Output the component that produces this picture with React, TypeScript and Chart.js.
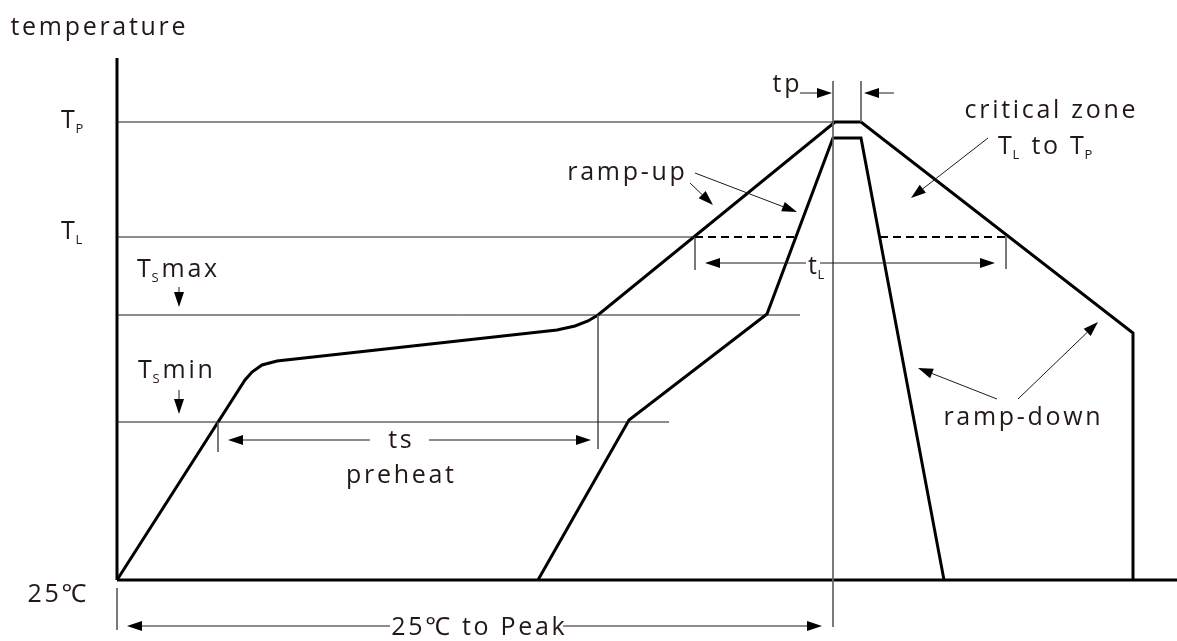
import React, { useEffect, useRef } from 'react';
import { Chart, registerables } from 'chart.js';
Chart.register(...registerables);

// Schematic reflow profile: x = time (relative units), y = temperature (relative units, 0 = 25℃)
const axisYLine = [{ x: 0, y: 0 }, { x: 0, y: 522 }];
const axisXLine = [{ x: 0, y: 0 }, { x: 1060, y: 0 }];

const outerProfile = [
  { x: 0, y: 0 }, { x: 128, y: 200 }, { x: 135, y: 208 }, { x: 145, y: 215 }, { x: 160, y: 219 },
  { x: 440, y: 250 }, { x: 458, y: 254 }, { x: 471, y: 259 }, { x: 481, y: 265 },
  { x: 718, y: 458 }, { x: 744, y: 458 }, { x: 1016, y: 247 }, { x: 1016, y: 0 },
];
const innerProfile = [
  { x: 421, y: 0 }, { x: 512, y: 160 }, { x: 650, y: 266 }, { x: 716, y: 442 },
  { x: 744, y: 442 }, { x: 827, y: 0 },
];

const levelTP = [{ x: 0, y: 458 }, { x: 716, y: 458 }];
const levelTL = [{ x: 0, y: 343 }, { x: 578, y: 343 }];
const levelTsMax = [{ x: 0, y: 265 }, { x: 683, y: 265 }];
const levelTsMin = [{ x: 0, y: 158 }, { x: 552, y: 158 }];
const dashTL1 = [{ x: 578, y: 343 }, { x: 679, y: 343 }];
const dashTL2 = [{ x: 763, y: 343 }, { x: 889, y: 343 }];

const markPeakLeft = [{ x: 716, y: 499 }, { x: 716, y: -47 }];
const markPeakRight = [{ x: 744, y: 499 }, { x: 744, y: 458 }];
const markOrigin = [{ x: 0, y: -8 }, { x: 0, y: -50 }];
const markTsMin = [{ x: 101, y: 158 }, { x: 101, y: 128 }];
const markTsMax = [{ x: 481, y: 265 }, { x: 481, y: 131 }];
const markTLStart = [{ x: 578, y: 343 }, { x: 578, y: 310 }];
const markTLEnd = [{ x: 889, y: 344 }, { x: 889, y: 311 }];

// arrows: [fromX, fromY, toX, toY] (tip at "to")
const arrows = [
  [253, 140, 111, 140], [312, 140, 474, 140],
  [273, -46, 10, -46], [446, -46, 705, -46],
  [689, 317, 588, 317], [703, 317, 878, 317],
  [683, 487, 715, 487], [777, 487, 747, 487],
  [573, 397, 596, 375], [578, 407, 680, 368],
  [871, 442, 794, 382],
  [880, 181, 801, 212], [901, 181, 981, 258],
  [62, 293, 62, 273], [62, 190, 62, 166],
];

type Part = { t: string; sub?: boolean };
const labels: { parts: Part[]; x: number; y: number; align: 'left' | 'center' }[] = [
  { parts: [{ t: 'temperature' }], x: -19, y: 545, align: 'center' },
  { parts: [{ t: 'T' }, { t: 'P', sub: true }], x: -56, y: 452, align: 'left' },
  { parts: [{ t: 'T' }, { t: 'L', sub: true }], x: -56, y: 341, align: 'left' },
  { parts: [{ t: 'T' }, { t: 'S', sub: true }, { t: 'max' }], x: 20, y: 303, align: 'left' },
  { parts: [{ t: 'T' }, { t: 'S', sub: true }, { t: 'min' }], x: 21, y: 202, align: 'left' },
  { parts: [{ t: '25℃' }], x: -60, y: -22, align: 'center' },
  { parts: [{ t: 'ts' }], x: 283, y: 132, align: 'center' },
  { parts: [{ t: 'preheat' }], x: 283, y: 97, align: 'center' },
  { parts: [{ t: '25℃ to Peak' }], x: 361, y: -55, align: 'center' },
  { parts: [{ t: 'ramp-up' }], x: 509, y: 400, align: 'center' },
  { parts: [{ t: 'tp' }], x: 669, y: 488, align: 'center' },
  { parts: [{ t: 'critical zone' }], x: 933, y: 462, align: 'center' },
  { parts: [{ t: 'T' }, { t: 'L', sub: true }, { t: ' to T' }, { t: 'P', sub: true }], x: 881, y: 426, align: 'left' },
  { parts: [{ t: 't' }, { t: 'L', sub: true }], x: 691, y: 306, align: 'left' },
  { parts: [{ t: 'ramp-down' }], x: 905, y: 155, align: 'center' },
];

const FONT = '"Open Sans", "Noto Sans", sans-serif';
const MAIN_SIZE = 25;
const SUB_SIZE = 13;
const SPACING = 2.7;
const TEXT_COLOR = '#231815';

function ds(data: any[], width: number, color: string, dash: number[] = []) {
  return {
    data, showLine: true, borderColor: color, borderWidth: width, pointRadius: 0,
    fill: false, borderDash: dash, clip: false as any, tension: 0, borderCapStyle: 'butt',
  };
}

const overlayPlugin = {
  id: 'overlay',
  afterDatasetsDraw(chart: any) {
    const ctx: CanvasRenderingContext2D = chart.ctx;
    const xs = chart.scales.x, ys = chart.scales.y;
    ctx.save();
    for (const [fx, fy, tx, ty] of arrows) {
      const x1 = xs.getPixelForValue(fx), y1 = ys.getPixelForValue(fy);
      const x2 = xs.getPixelForValue(tx), y2 = ys.getPixelForValue(ty);
      const ang = Math.atan2(y2 - y1, x2 - x1);
      const L = 15, W = 5;
      const bx = x2 - L * Math.cos(ang), by = y2 - L * Math.sin(ang);
      ctx.strokeStyle = '#231815';
      ctx.lineWidth = 1;
      ctx.beginPath();
      ctx.moveTo(x1, y1);
      ctx.lineTo(bx, by);
      ctx.stroke();
      ctx.fillStyle = '#000';
      ctx.beginPath();
      ctx.moveTo(x2, y2);
      ctx.lineTo(bx + W * Math.sin(ang), by - W * Math.cos(ang));
      ctx.lineTo(bx - W * Math.sin(ang), by + W * Math.cos(ang));
      ctx.closePath();
      ctx.fill();
    }
    ctx.fillStyle = TEXT_COLOR;
    ctx.textBaseline = 'alphabetic';
    ctx.textAlign = 'left';
    for (const lab of labels) {
      const px = xs.getPixelForValue(lab.x), py = ys.getPixelForValue(lab.y);
      const widths = lab.parts.map((p) => {
        ctx.font = `${p.sub ? SUB_SIZE : MAIN_SIZE}px ${FONT}`;
        (ctx as any).letterSpacing = p.sub ? '0px' : `${SPACING}px`;
        return ctx.measureText(p.t).width + (p.sub ? 1 : 0);
      });
      const total = widths.reduce((a, b) => a + b, 0) - SPACING;
      let cx = lab.align === 'center' ? px - total / 2 : px;
      lab.parts.forEach((p, i) => {
        ctx.font = `${p.sub ? SUB_SIZE : MAIN_SIZE}px ${FONT}`;
        (ctx as any).letterSpacing = p.sub ? '0px' : `${SPACING}px`;
        ctx.fillText(p.t, p.sub ? cx - 2 : cx, p.sub ? py + 5 : py);
        cx += widths[i];
      });
    }
    ctx.restore();
  },
};

export default function App() {
  const ref = useRef<HTMLCanvasElement>(null);
  useEffect(() => {
    if (!ref.current) return;
    const thin = '#231815';
    const tick = '#666';
    const chart = new Chart(ref.current, {
      type: 'scatter',
      data: {
        datasets: [
          ds(levelTP, 1, thin), ds(levelTL, 1, thin), ds(levelTsMax, 1, thin), ds(levelTsMin, 1, thin),
          ds(dashTL1, 2, '#000', [8, 5]), ds(dashTL2, 2, '#000', [8, 5]),
          ds(markPeakLeft, 1, tick), ds(markPeakRight, 1, tick), ds(markOrigin, 1, tick),
          ds(markTsMin, 1, tick), ds(markTsMax, 1, tick), ds(markTLStart, 1, tick), ds(markTLEnd, 1, tick),
          ds(outerProfile, 3, '#000'), ds(innerProfile, 3, '#000'),
          ds(axisYLine, 3, '#000'), ds(axisXLine, 3, '#000'),
        ] as any,
      },
      options: {
        responsive: false,
        animation: false,
        events: [],
        layout: { padding: 0 },
        plugins: { legend: { display: false }, tooltip: { enabled: false } },
        scales: {
          x: { type: 'linear', min: -117, max: 1060, display: false },
          y: { type: 'linear', min: -61, max: 580, display: false },
        },
      },
      plugins: [overlayPlugin],
    });
    return () => chart.destroy();
  }, []);
  return (
    <div style={{ position: 'fixed', left: 0, top: 0, width: 1177, height: 641, background: '#fff' }}>
      <canvas ref={ref} width={1177} height={641} style={{ display: 'block' }} />
    </div>
  );
}
